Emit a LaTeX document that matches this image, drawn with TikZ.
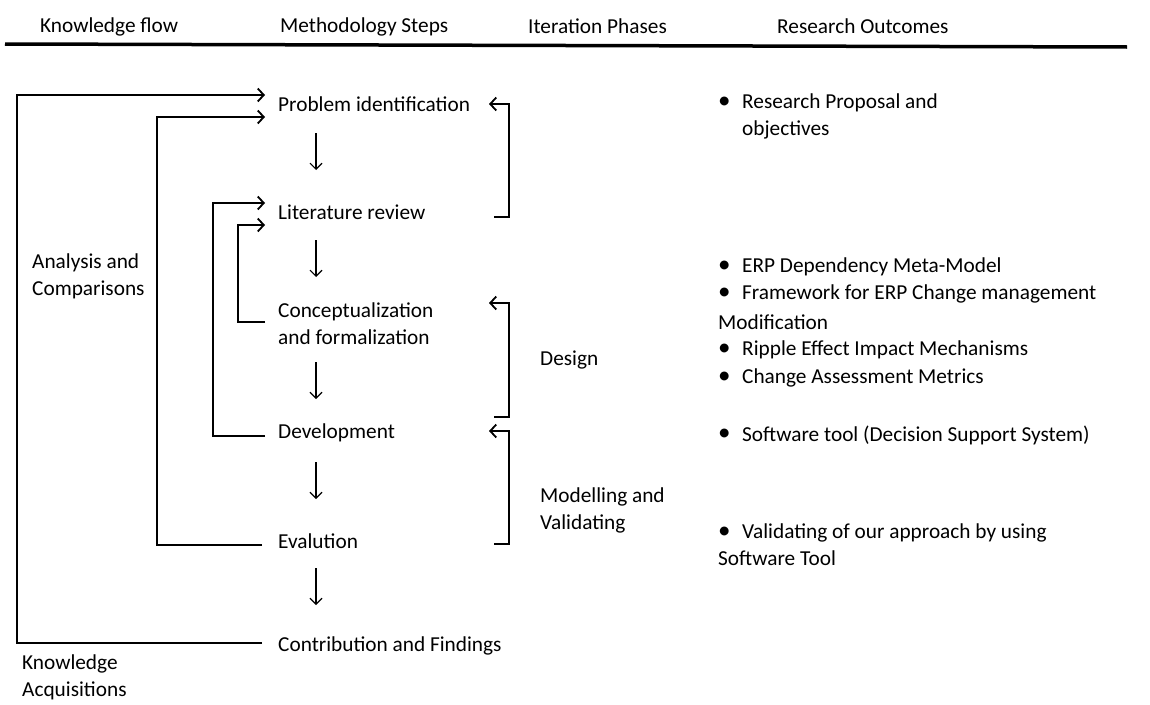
\documentclass[tikz,border=0pt]{standalone}
\usepackage{fontspec}
\setmainfont{Carlito}
\usetikzlibrary{arrows.meta}

\begin{document}
\begin{tikzpicture}[x=1pt,y=-1pt,
    txt/.style={anchor=west,inner sep=0pt,font=\fontsize{21.3}{27}\selectfont,align=left},
    ln/.style={line width=1.8pt},
    ar/.style={ln,-{Straight Barb[length=6pt,width=13pt]}},
    dn/.style={line width=1.1pt,-{Straight Barb[length=6pt,width=12pt]}}]
    \useasboundingbox (0,0) rectangle (1150,704);

    %% headings
    \node[txt] (kflow) at (40,27) {Knowledge flow};
    \node[txt] (msteps) at (280,27) {Methodology Steps};
    \node[txt] (iphases) at (528,26) {Iteration Phases};
    \node[txt] (routc) at (777,26) {Research Outcomes};
    \coordinate (rule1) at (5,44);
    \coordinate (rule2) at (1127,47);
    \draw[line width=3.5pt] (rule1) -- (rule2);

    %% methodology steps
    \node[txt] (prob) at (278,104) {Problem identification};
    \node[txt] (lit) at (278,212) {Literature review};
    \node[txt] (conc) at (278,324) {Conceptualization\\and formalization};
    \node[txt] (dev) at (278,433) {Development};
    \node[txt] (eval) at (278,541) {Evalution};
    \node[txt] (contr) at (278,646) {Contribution and Findings};
    % down arrows
    \foreach \n/\d in {prob/29,lit/28,conc/38,dev/29,eval/27}
        \draw[dn] (\n.west) ++(38,\d) -- ++(0,37);

    %% knowledge flow loops
    \draw[ar] ([shift={(-16,-3)}]contr.west) -| ([shift={(-261,-9)}]prob.west) -- ([shift={(-13,-9)}]prob.west);
    \draw[ar] ([shift={(-16,4)}]eval.west) -| ([shift={(-121,13)}]prob.west) -- ([shift={(-13,13)}]prob.west);
    \draw[ar] ([shift={(-13,3)}]dev.west) -| ([shift={(-65,-9)}]lit.west) -- ([shift={(-13,-9)}]lit.west);
    \draw[ar] ([shift={(-13,-2)}]conc.west) -| ([shift={(-40,13)}]lit.west) -- ([shift={(-13,13)}]lit.west);
    \node[txt] (anal) at (32,276) {Analysis and\\Comparisons};
    \node[txt] (acq) at (22,677) {Knowledge\\Acquisitions};

    %% iteration phases
    \coordinate (it1) at (494,217);
    \coordinate (it2) at (494,417);
    \coordinate (it3) at (494,544);
    \draw[ar] (it1) -| (509,104) -- (489,104);
    \draw[ar] (it2) -| (509,303) -- (489,303);
    \draw[ar] (it3) -| (509,431) -- (489,431);
    \node[txt] (design) at (540,360) {Design};
    \node[txt] (model) at (540,510) {Modelling and\\Validating};

    %% research outcomes
    \node[txt] (out1) at (742,103) {Research Proposal and};
    \node[txt] (out1b) at (742,130) {objectives};
    \node[txt] (out2) at (742,267) {ERP Dependency Meta-Model};
    \node[txt] (out3) at (742,294) {Framework for ERP Change management};
    \node[txt] (out3b) at (718,322) {Modification};
    \node[txt] (out4) at (742,350) {Ripple Effect Impact Mechanisms};
    \node[txt] (out5) at (742,378) {Change Assessment Metrics};
    \node[txt] (out6) at (742,435) {Software tool (Decision Support System)};
    \node[txt] (out7) at (742,533) {Validating of our approach by using};
    \node[txt] (out7b) at (718,558) {Software Tool};
    \foreach \o in {out1,out2,out3,out4,out5,out6,out7}
        \node[txt,font=\fontsize{25}{25}\selectfont] at ([xshift=-24pt]\o.west) {\textbullet};
\end{tikzpicture}
\end{document}
